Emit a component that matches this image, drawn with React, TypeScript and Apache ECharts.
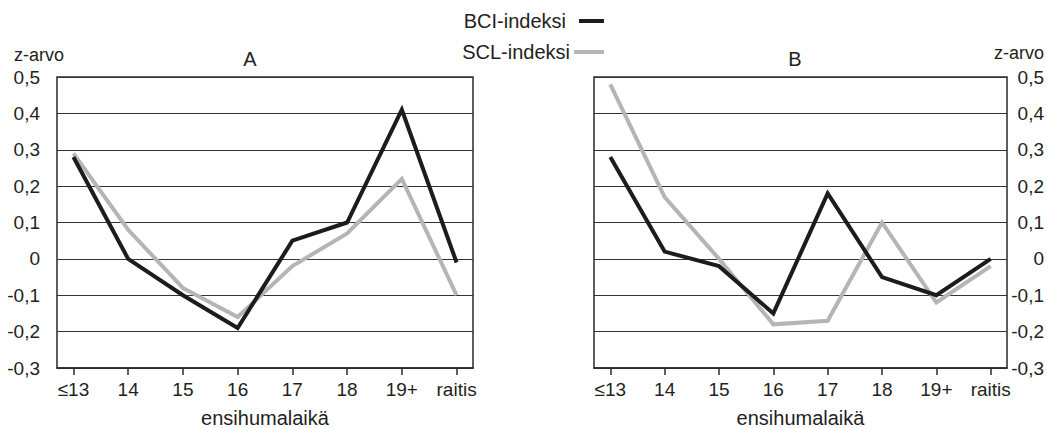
import React, { useEffect, useRef } from "react";
import * as echarts from "echarts";

const categories = ["≤13", "14", "15", "16", "17", "18", "19+", "raitis"];
const bciA = [0.28, 0.0, -0.1, -0.19, 0.05, 0.1, 0.41, -0.01];
const sclA = [0.29, 0.08, -0.08, -0.16, -0.02, 0.07, 0.22, -0.1];
const bciB = [0.28, 0.02, -0.02, -0.15, 0.18, -0.05, -0.1, 0.0];
const sclB = [0.48, 0.17, 0.0, -0.18, -0.17, 0.1, -0.12, -0.02];
const seriesNames = ["BCI-indeksi", "SCL-indeksi"];
const panelTitles = ["A", "B"];
const yName = "z-arvo";
const xName = "ensihumalaikä";

const FONT = "'Liberation Sans', Arial, Helvetica, sans-serif";
const TXT = "#231f20";
const BLACK = "#1c1c1c";
const GREY = "#b5b5b5";

const fmtY = (v: number) => {
  const r = Math.round(v * 10) / 10;
  if (r === 0) return "0";
  return r.toFixed(1).replace(".", ",");
};

const toPts = (arr: number[]) => arr.map((v, i) => [i, v]);

export default function App() {
  const ref = useRef<HTMLDivElement>(null);
  useEffect(() => {
    if (!ref.current) return;
    const chart = echarts.init(ref.current, undefined, { renderer: "svg" });
    const idx = categories.map((_, i) => i);
    const xAxisBase = (gridIndex: number) => ({
      type: "value",
      gridIndex,
      min: -0.3,
      max: 7.3,
      name: xName,
      nameLocation: "middle",
      nameGap: 40,
      nameTextStyle: { fontFamily: FONT, fontSize: 20, color: TXT },
      axisLine: { show: true, onZero: false, lineStyle: { color: "#2a2a2a", width: 1.5 } },
      axisTick: {
        show: true,
        customValues: idx,
        length: 7,
        inside: false,
        lineStyle: { color: "#2a2a2a", width: 1.5 },
      },
      axisLabel: {
        show: true,
        customValues: idx,
        margin: 12,
        fontFamily: FONT,
        fontSize: 19,
        color: TXT,
        formatter: (v: number) => categories[Math.round(v)] ?? "",
      },
      splitLine: { show: false },
    });
    const yAxisBase = (gridIndex: number, position: string) => ({
      type: "value",
      gridIndex,
      position,
      min: -0.3,
      max: 0.5,
      interval: 0.1,
      axisLine: { show: false, onZero: false },
      axisTick: { show: false },
      axisLabel: {
        margin: position === "left" ? 17 : 37,
        align: "right",
        fontFamily: FONT,
        fontSize: 19,
        color: TXT,
        formatter: (v: number) => fmtY(v),
      },
      splitLine: { show: true, lineStyle: { color: "#333", width: 1 } },
    });
    const line = (name: string, data: number[], gi: number, color: string, z: number) => ({
      type: "line",
      name,
      xAxisIndex: gi,
      yAxisIndex: gi,
      data: toPts(data),
      symbol: "none",
      z,
      lineStyle: { color, width: 4, join: "miter" },
      itemStyle: { color },
    });
    const gridBase = {
      top: 77,
      height: 291,
      show: true,
      borderColor: "#2a2a2a",
      borderWidth: 1.5,
      backgroundColor: "transparent",
      containLabel: false,
      outerBoundsMode: "none",
    };
    const option: any = {
      animation: false,
      backgroundColor: "#ffffff",
      textStyle: { fontFamily: FONT },
      grid: [
        { ...gridBase, left: 57, width: 416 },
        { ...gridBase, left: 594, width: 413 },
      ],
      xAxis: [xAxisBase(0), xAxisBase(1)],
      yAxis: [yAxisBase(0, "left"), yAxisBase(1, "right")],
      series: [
        line(seriesNames[1], sclA, 0, GREY, 2),
        line(seriesNames[0], bciA, 0, BLACK, 3),
        line(seriesNames[1], sclB, 1, GREY, 2),
        line(seriesNames[0], bciB, 1, BLACK, 3),
      ],
      graphic: [
        { type: "text", left: 14, top: 46, style: { text: yName, font: `18px ${FONT}`, fill: TXT } },
        { type: "text", right: 3, top: 44, style: { text: yName, font: `18px ${FONT}`, fill: TXT } },
        { type: "text", x: 250, y: 59, style: { text: panelTitles[0], font: `20px ${FONT}`, fill: TXT, align: "center", verticalAlign: "middle" } },
        { type: "text", x: 795, y: 59, style: { text: panelTitles[1], font: `20px ${FONT}`, fill: TXT, align: "center", verticalAlign: "middle" } },
        { type: "text", x: 566, y: 21, style: { text: seriesNames[0], font: `20px ${FONT}`, fill: TXT, align: "right", verticalAlign: "middle" } },
        { type: "line", shape: { x1: 579, y1: 21, x2: 604, y2: 21 }, style: { stroke: BLACK, lineWidth: 4 } },
        { type: "text", x: 570, y: 52, style: { text: seriesNames[1], font: `20px ${FONT}`, fill: TXT, align: "right", verticalAlign: "middle" } },
        { type: "line", shape: { x1: 574, y1: 52, x2: 604, y2: 52 }, style: { stroke: GREY, lineWidth: 4 } },
      ],
    };
    chart.setOption(option);
    return () => chart.dispose();
  }, []);
  return (
    <div
      ref={ref}
      style={{ position: "fixed", left: 0, top: 0, width: 1047, height: 428, background: "#fff" }}
    />
  );
}
